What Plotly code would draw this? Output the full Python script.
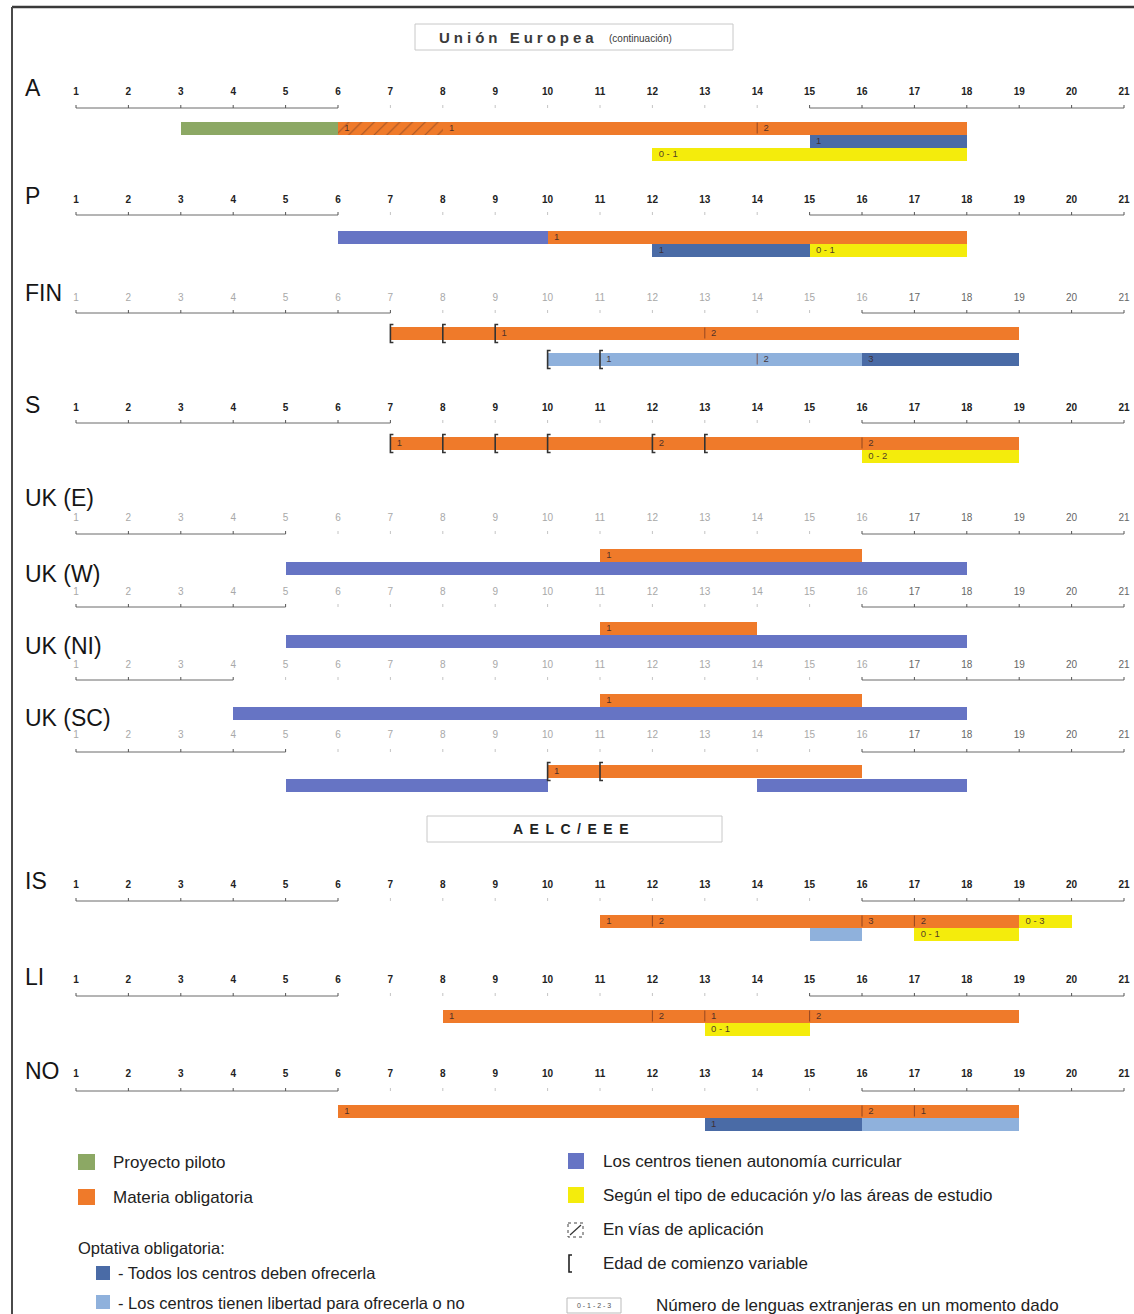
import plotly.graph_objects as go

# ---------------- data ----------------
AGES = list(range(1, 22))
COUNTRIES = ["A", "P", "FIN", "S", "UK (E)", "UK (W)", "UK (NI)", "UK (SC)", "IS", "LI", "NO"]

# solid parts of each age ruler: 1..AXIS_LEFT_END and AXIS_RIGHT_START..21
AXIS_LEFT_END = [6, 6, 7, 7, 5, 5, 4, 5, 6, 6, 6]
AXIS_RIGHT_START = [15, 15, 16, 16, 16, 16, 16, 16, 16, 15, 16]
BOLD_TICKS = [True, True, False, True, False, False, False, False, True, True, True]

# segments: (country, row, start age, end age)
PILOTO = [("A", 1, 3, 6)]
OBLIGATORIA = [("A", 1, 6, 18), ("P", 1, 10, 18), ("FIN", 1, 7, 19), ("S", 1, 7, 19),
               ("UK (E)", 1, 11, 16), ("UK (W)", 1, 11, 14), ("UK (NI)", 1, 11, 16),
               ("UK (SC)", 1, 10, 16), ("IS", 1, 11, 19), ("LI", 1, 8, 19), ("NO", 1, 6, 19)]
EN_VIAS = [("A", 1, 6, 8)]
TODOS = [("A", 2, 15, 18), ("P", 2, 12, 15), ("FIN", 2, 16, 19), ("NO", 2, 13, 16)]
LIBERTAD = [("FIN", 2, 10, 16), ("IS", 2, 15, 16), ("NO", 2, 16, 19)]
AUTONOMIA = [("P", 1, 6, 10), ("UK (E)", 2, 5, 18), ("UK (W)", 2, 5, 18), ("UK (NI)", 2, 4, 18),
             ("UK (SC)", 2, 5, 10), ("UK (SC)", 2, 14, 18)]
SEGUN = [("A", 3, 12, 18), ("P", 2, 15, 18), ("S", 2, 16, 19), ("IS", 1, 19, 20),
         ("IS", 2, 17, 19), ("LI", 2, 13, 15)]

# number of foreign languages written in the bars: (country, row, age, text)
LANG_LABELS = [("A", 1, 6, "1"), ("A", 1, 8, "1"), ("A", 1, 14, "2"), ("A", 2, 15, "1"),
               ("A", 3, 12, "0 - 1"),
               ("P", 1, 10, "1"), ("P", 2, 12, "1"), ("P", 2, 15, "0 - 1"),
               ("FIN", 1, 9, "1"), ("FIN", 1, 13, "2"), ("FIN", 2, 11, "1"), ("FIN", 2, 14, "2"),
               ("FIN", 2, 16, "3"),
               ("S", 1, 7, "1"), ("S", 1, 12, "2"), ("S", 1, 16, "2"), ("S", 2, 16, "0 - 2"),
               ("UK (E)", 1, 11, "1"), ("UK (W)", 1, 11, "1"), ("UK (NI)", 1, 11, "1"),
               ("UK (SC)", 1, 10, "1"),
               ("IS", 1, 11, "1"), ("IS", 1, 12, "2"), ("IS", 1, 16, "3"), ("IS", 1, 17, "2"),
               ("IS", 1, 19, "0 - 3"), ("IS", 2, 17, "0 - 1"),
               ("LI", 1, 8, "1"), ("LI", 1, 12, "2"), ("LI", 1, 13, "1"), ("LI", 1, 15, "2"),
               ("LI", 2, 13, "0 - 1"),
               ("NO", 1, 6, "1"), ("NO", 1, 16, "2"), ("NO", 1, 17, "1"), ("NO", 2, 13, "1")]

# thin dividers inside bars: (country, row, age)
DIVIDERS = [("A", 1, 14), ("FIN", 1, 13), ("FIN", 2, 14), ("S", 1, 16), ("IS", 1, 12),
            ("IS", 1, 16), ("IS", 1, 17), ("LI", 1, 12), ("LI", 1, 13), ("LI", 1, 15),
            ("NO", 1, 16), ("NO", 1, 17)]

# variable starting age brackets: (country, row, age)
BRACKETS = [("FIN", 1, 7), ("FIN", 1, 8), ("FIN", 1, 9), ("FIN", 2, 10), ("FIN", 2, 11),
            ("S", 1, 7), ("S", 1, 8), ("S", 1, 9), ("S", 1, 10), ("S", 1, 12), ("S", 1, 13),
            ("UK (SC)", 1, 10), ("UK (SC)", 1, 11)]

# ---------------- layout (pixel positions) ----------------
W, H = 1134, 1314
PX_PER_YEAR = 52.4
XMIN = 1 - 76 / PX_PER_YEAR
XMAX = XMIN + W / PX_PER_YEAR
ROW_H = 13

GEOM = {
    "A":       dict(label=88,  nums=92,  axis=108, rows=[128, 141, 154]),
    "P":       dict(label=196, nums=200, axis=215, rows=[237, 250]),
    "FIN":     dict(label=293, nums=298, axis=313, rows=[333, 359]),
    "S":       dict(label=405, nums=408, axis=423, rows=[443, 456]),
    "UK (E)":  dict(label=498, nums=518, axis=534, rows=[555, 568]),
    "UK (W)":  dict(label=574, nums=592, axis=607, rows=[628, 641]),
    "UK (NI)": dict(label=646, nums=665, axis=680, rows=[700, 713]),
    "UK (SC)": dict(label=718, nums=735, axis=752, rows=[771, 785]),
    "IS":      dict(label=881, nums=885, axis=901, rows=[921, 934]),
    "LI":      dict(label=977, nums=980, axis=996, rows=[1016, 1029]),
    "NO":      dict(label=1071, nums=1074, axis=1091, rows=[1111, 1124]),
}

C_GREEN = "#8ca864"
C_ORANGE = "#ef7a2a"
C_DARKBLUE = "#4a6ba6"
C_LIGHTBLUE = "#8fb1dc"
C_AUTON = "#6674c4"
C_YELLOW = "#f4ec0c"

FONT = "Liberation Sans, Arial, sans-serif"


def rowy(c, r):
    return GEOM[c]["rows"][r - 1]


fig = go.Figure()


def add_bars(segs, color, pattern=None):
    marker = dict(color=color, line=dict(width=0))
    if pattern:
        marker["pattern"] = pattern
    fig.add_trace(go.Bar(
        orientation="h",
        y=[rowy(c, r) for c, r, s, e in segs],
        base=[s for c, r, s, e in segs],
        x=[e - s for c, r, s, e in segs],
        width=[ROW_H] * len(segs),
        marker=marker, hoverinfo="skip"))


add_bars(PILOTO, C_GREEN)
add_bars(OBLIGATORIA, C_ORANGE)
add_bars(EN_VIAS, C_ORANGE, dict(shape="/", fgcolor="#5a3020", bgcolor=C_ORANGE,
                                 size=9, solidity=0.12, fillmode="overlay"))
add_bars(AUTONOMIA, C_AUTON)
add_bars(LIBERTAD, C_LIGHTBLUE)
add_bars(TODOS, C_DARKBLUE)
add_bars(SEGUN, C_YELLOW)

# dividers
dx, dy = [], []
for c, r, a in DIVIDERS:
    y = rowy(c, r)
    dx += [a, a, None]
    dy += [y - ROW_H / 2 + 1, y + ROW_H / 2 - 1, None]
fig.add_trace(go.Scatter(x=dx, y=dy, mode="lines", line=dict(color="rgba(110,50,30,0.7)", width=1),
                         hoverinfo="skip"))

# brackets
bx, by = [], []
arm = 3 / PX_PER_YEAR
for c, r, a in BRACKETS:
    y = rowy(c, r)
    t, b = y - ROW_H / 2 - 2, y + ROW_H / 2 + 3
    bx += [a + arm, a, a, a + arm, None]
    by += [t, t, b, b, None]
fig.add_trace(go.Scatter(x=bx, y=by, mode="lines", line=dict(color="#333", width=1.6),
                         hoverinfo="skip"))

# labels in bars
fig.add_trace(go.Scatter(
    x=[a + 0.12 for c, r, a, t in LANG_LABELS],
    y=[rowy(c, r) + 1 for c, r, a, t in LANG_LABELS],
    text=[t for c, r, a, t in LANG_LABELS],
    mode="text", textposition="middle right", cliponaxis=False,
    textfont=dict(family=FONT, size=9.5, color="rgba(60,40,40,0.9)"),
    hoverinfo="skip"))

# rulers, tick numbers and country names
for i, c in enumerate(COUNTRIES):
    g = GEOM[c]
    le, rs = AXIS_LEFT_END[i], AXIS_RIGHT_START[i]
    ay = g["axis"]
    fig.add_trace(go.Scatter(x=[1, le, None, rs, 21], y=[ay, ay, None, ay, ay], mode="lines",
                             line=dict(color="#6a6a6a", width=1), hoverinfo="skip"))
    tx_d, ty_d, tx_l, ty_l = [], [], [], []
    for a in AGES:
        if a <= le or a >= rs:
            tx_d += [a, a, None]
            ty_d += [ay, ay - 3, None]
        else:
            tx_l += [a, a, None]
            ty_l += [ay, ay - 3, None]
    fig.add_trace(go.Scatter(x=tx_d, y=ty_d, mode="lines", line=dict(color="#555", width=1),
                             hoverinfo="skip"))
    fig.add_trace(go.Scatter(x=tx_l, y=ty_l, mode="lines", line=dict(color="#c4c4c4", width=1),
                             hoverinfo="skip"))
    if BOLD_TICKS[i]:
        tf = dict(family=FONT, size=10, color="#222", weight="bold")
    else:
        tf = dict(family=FONT, size=10, color=["#666" if a >= 17 else "#a8a8a8" for a in AGES])
    fig.add_trace(go.Scatter(x=AGES, y=[g["nums"]] * len(AGES), text=[str(a) for a in AGES],
                             mode="text", textposition="middle center", textfont=tf,
                             cliponaxis=False, hoverinfo="skip"))
    fig.add_annotation(x=23 / W, xref="paper", y=g["label"], yref="y", text=c, showarrow=False,
                       xanchor="left", yanchor="middle",
                       font=dict(family=FONT, size=23, color="#151515"))

shapes = []


def px(x):
    return x / W


# frame
shapes.append(dict(type="line", xref="paper", yref="y", x0=px(12), x1=px(1134), y0=7, y1=7,
                   line=dict(color="#3a3a3a", width=2.5)))
shapes.append(dict(type="line", xref="paper", yref="y", x0=px(12), x1=px(12), y0=7, y1=1314,
                   line=dict(color="#4a4a4a", width=2)))

# section title boxes
shapes.append(dict(type="rect", xref="paper", yref="y", x0=px(415), x1=px(733), y0=24, y1=50,
                   line=dict(color="#c8c8c8", width=1), fillcolor="white"))
fig.add_annotation(x=px(437), xref="paper", y=37, yref="y",
                   text='<span style="letter-spacing:4px">Unión Europea</span>', showarrow=False,
                   xanchor="left", font=dict(family=FONT, size=15, color="#3a3a3a", weight="bold"))
fig.add_annotation(x=px(607), xref="paper", y=38, yref="y", text="(continuación)", showarrow=False,
                   xanchor="left", font=dict(family=FONT, size=10, color="#3a3a3a"))
shapes.append(dict(type="rect", xref="paper", yref="y", x0=px(427), x1=px(722), y0=816, y1=842,
                   line=dict(color="#c8c8c8", width=1), fillcolor="white"))
fig.add_annotation(x=px(511), xref="paper", y=829, yref="y",
                   text='<span style="letter-spacing:6.5px">AELC/EEE</span>', showarrow=False,
                   xanchor="left", font=dict(family=FONT, size=14, color="#222", weight="bold"))

# legend
LEG_FONT = dict(family=FONT, size=17, color="#222")


def swatch(x0, y0, x1, y1, color):
    shapes.append(dict(type="rect", xref="paper", yref="y", x0=px(x0), x1=px(x1), y0=y0, y1=y1,
                       line=dict(width=0), fillcolor=color))


def leg_text(x, y, t, size=17):
    f = dict(LEG_FONT)
    f["size"] = size
    fig.add_annotation(x=px(x), xref="paper", y=y, yref="y", text=t, showarrow=False,
                       xanchor="left", yanchor="middle", font=f)


swatch(78, 1154, 95, 1170, C_GREEN)
leg_text(111, 1162, "Proyecto piloto")
swatch(78, 1189, 95, 1205, C_ORANGE)
leg_text(111, 1197, "Materia obligatoria")
leg_text(76, 1248, "Optativa obligatoria:", 16.5)
swatch(96, 1266, 110, 1280, C_DARKBLUE)
leg_text(116, 1273, "- Todos los centros deben ofrecerla", 16.5)
swatch(96, 1295, 110, 1309, C_LIGHTBLUE)
leg_text(116, 1303, "- Los centros tienen libertad para ofrecerla o no", 16.5)

swatch(568, 1153, 584, 1169, C_AUTON)
leg_text(601, 1161, "Los centros tienen autonomía curricular")
swatch(568, 1187, 584, 1203, C_YELLOW)
leg_text(601, 1195, "Según el tipo de educación y/o las áreas de estudio")
shapes.append(dict(type="rect", xref="paper", yref="y", x0=px(568), x1=px(583), y0=1223, y1=1237,
                   line=dict(color="#444", width=1, dash="dot"), fillcolor="white"))
shapes.append(dict(type="line", xref="paper", yref="y", x0=px(570), x1=px(581), y0=1235, y1=1225,
                   line=dict(color="#333", width=1.2)))
leg_text(601, 1229, "En vías de aplicación")
shapes.append(dict(type="path", xref="paper", yref="y",
                   path=f"M {px(572)},1255 L {px(569)},1255 L {px(569)},1272 L {px(572)},1272",
                   line=dict(color="#222", width=1.6)))
leg_text(601, 1263, "Edad de comienzo variable")
shapes.append(dict(type="rect", xref="paper", yref="y", x0=px(567), x1=px(621), y0=1298, y1=1313,
                   line=dict(color="#bbb", width=1), fillcolor="white"))
fig.add_annotation(x=px(594), xref="paper", y=1305.5, yref="y", text="0 - 1 - 2 - 3", showarrow=False,
                   xanchor="center", font=dict(family=FONT, size=7, color="#555"))
leg_text(654, 1305, "Número de lenguas extranjeras en un momento dado")

fig.update_layout(
    width=W, height=H, margin=dict(l=0, r=0, t=0, b=0),
    paper_bgcolor="white", plot_bgcolor="white",
    showlegend=False, barmode="overlay", bargap=0,
    xaxis=dict(range=[XMIN, XMAX], visible=False, fixedrange=True),
    yaxis=dict(range=[H, 0], visible=False, fixedrange=True),
    shapes=shapes,
)

fig.write_html("out.html", config={"displayModeBar": False},
               post_script="document.body.style.margin='0';document.body.style.overflow='hidden';")
